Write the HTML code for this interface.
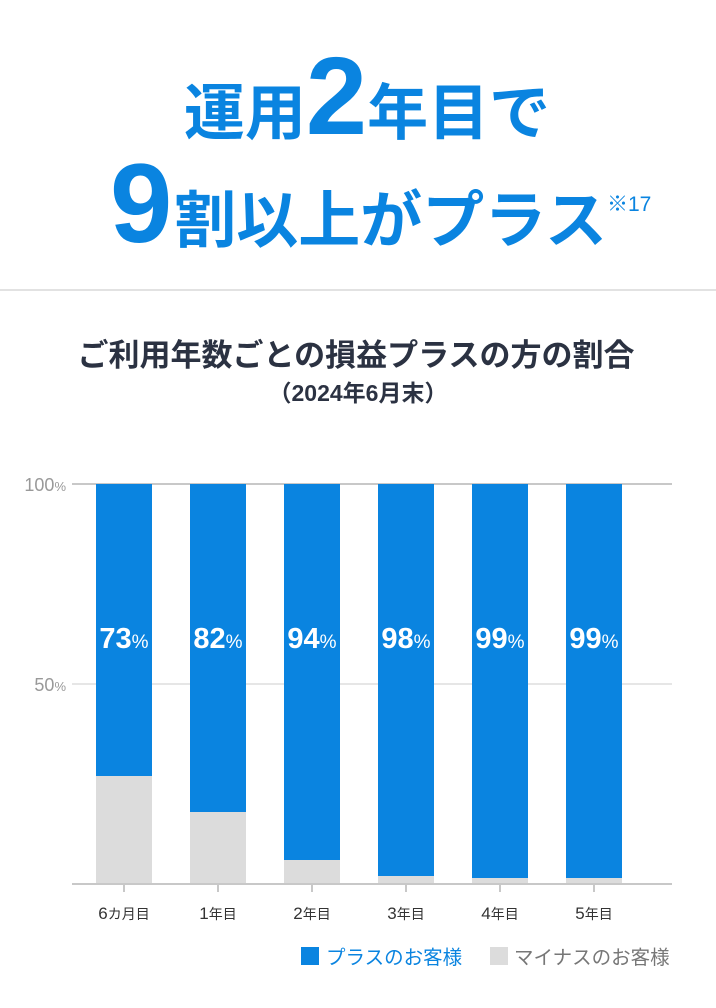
<!DOCTYPE html><html><head><meta charset="utf-8"><style>
html,body{margin:0;padding:0;background:#fff;width:716px;height:1008px;overflow:hidden}
text{font-family:"Liberation Sans","Noto Sans CJK JP",sans-serif}
</style></head><body>
<svg width="716" height="1008" xmlns="http://www.w3.org/2000/svg">
<g fill="#0a84e0" font-weight="bold">
<text x="367" y="134" text-anchor="middle" font-size="61"><tspan>運用</tspan><tspan font-size="110">2</tspan><tspan>年目で</tspan></text>
<text x="110" y="242" font-size="62"><tspan font-size="112">9</tspan><tspan dx="2">割以上がプラス</tspan></text>
<text x="607" y="211" font-size="21" font-weight="normal">※17</text>
</g>
<rect x="0" y="289" width="716" height="2" fill="#e2e2e2"/>
<text x="356" y="366" text-anchor="middle" font-size="31" font-weight="bold" fill="#2b3242">ご利用年数ごとの損益プラスの方の割合</text>
<text x="358" y="401" text-anchor="middle" font-size="23" font-weight="bold" fill="#2b3242">（2024年6月末）</text>
<line x1="72" y1="484" x2="672" y2="484" stroke="#c8c8c8" stroke-width="2"/>
<line x1="72" y1="684" x2="672" y2="684" stroke="#e6e6e6" stroke-width="2"/>
<text x="66" y="491" text-anchor="end" font-size="18" fill="#999">100<tspan font-size="13">%</tspan></text>
<text x="66" y="691" text-anchor="end" font-size="18" fill="#999">50<tspan font-size="13">%</tspan></text>
<g>
<rect x="96" y="484" width="56" height="400" fill="#0a84e0"/><rect x="96" y="776" width="56" height="108" fill="#dcdcdc"/>
<rect x="190" y="484" width="56" height="400" fill="#0a84e0"/><rect x="190" y="812" width="56" height="72" fill="#dcdcdc"/>
<rect x="284" y="484" width="56" height="400" fill="#0a84e0"/><rect x="284" y="860" width="56" height="24" fill="#dcdcdc"/>
<rect x="378" y="484" width="56" height="400" fill="#0a84e0"/><rect x="378" y="876" width="56" height="8" fill="#dcdcdc"/>
<rect x="472" y="484" width="56" height="400" fill="#0a84e0"/><rect x="472" y="878" width="56" height="6" fill="#dcdcdc"/>
<rect x="566" y="484" width="56" height="400" fill="#0a84e0"/><rect x="566" y="878" width="56" height="6" fill="#dcdcdc"/>
</g>
<g fill="#fff" font-size="29" text-anchor="middle" font-weight="bold">
<text x="124" y="648">73<tspan font-size="19" font-weight="normal">%</tspan></text>
<text x="218" y="648">82<tspan font-size="19" font-weight="normal">%</tspan></text>
<text x="312" y="648">94<tspan font-size="19" font-weight="normal">%</tspan></text>
<text x="406" y="648">98<tspan font-size="19" font-weight="normal">%</tspan></text>
<text x="500" y="648">99<tspan font-size="19" font-weight="normal">%</tspan></text>
<text x="594" y="648">99<tspan font-size="19" font-weight="normal">%</tspan></text>
</g>
<line x1="72" y1="884" x2="672" y2="884" stroke="#c8c8c8" stroke-width="2"/>
<g stroke="#c8c8c8" stroke-width="2"><line x1="124" y1="884" x2="124" y2="892"/><line x1="218" y1="884" x2="218" y2="892"/><line x1="312" y1="884" x2="312" y2="892"/><line x1="406" y1="884" x2="406" y2="892"/><line x1="500" y1="884" x2="500" y2="892"/><line x1="594" y1="884" x2="594" y2="892"/></g>
<g font-size="17" fill="#333" text-anchor="middle">
<text x="124" y="919">6<tspan font-size="14">カ月目</tspan></text>
<text x="218" y="919">1<tspan font-size="14">年目</tspan></text>
<text x="312" y="919">2<tspan font-size="14">年目</tspan></text>
<text x="406" y="919">3<tspan font-size="14">年目</tspan></text>
<text x="500" y="919">4<tspan font-size="14">年目</tspan></text>
<text x="594" y="919">5<tspan font-size="14">年目</tspan></text>
</g>
<rect x="301" y="947" width="18" height="18" fill="#0a84e0"/>
<text x="326" y="964" font-size="19.5" fill="#0a84e0">プラスのお客様</text>
<rect x="490" y="947" width="18" height="18" fill="#dcdcdc"/>
<text x="514" y="964" font-size="19.5" fill="#777">マイナスのお客様</text>
</svg>
</body></html>
